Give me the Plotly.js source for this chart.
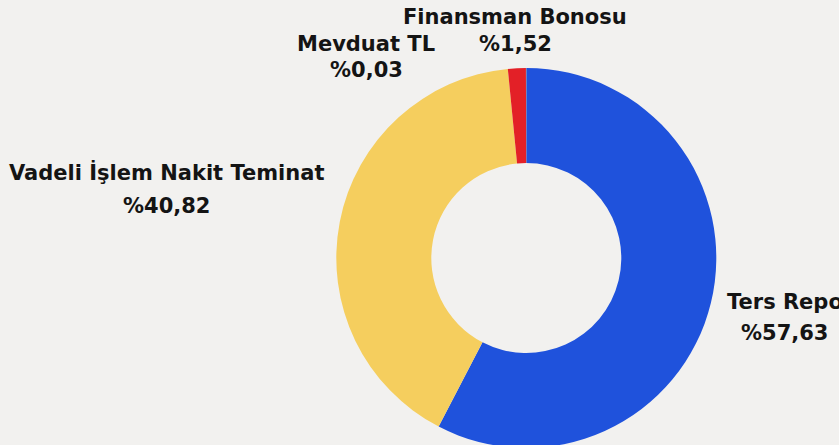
<!DOCTYPE html>
<html>
<head>
<meta charset="utf-8">
<script src="https://cdn.plot.ly/plotly-3.0.1.min.js"></script>
<style>
html, body { margin: 0; padding: 0; overflow: hidden; background: #f2f1ef; }
#chart { width: 839px; height: 450px; }
</style>
</head>
<body>
<div id="chart"></div>
<script>
// Data
const labels = ["Ters Repo", "Vadeli İşlem Nakit Teminat", "Finansman Bonosu", "Mevduat TL"];
const values = [57.63, 40.82, 1.52, 0.03];
const valueText = ["%57,63", "%40,82", "%1,52", "%0,03"];

// Styles / label placement (page px from top-left)
const colors = ["#1f52dc", "#f5ce5e", "#e32027", "#8a8a8a"];
const namePos = [[785, 302], [166, 172], [515, 17], [366, 44]];
const valuePos = [[784, 333], [166, 206], [515, 44], [366, 70]];

const W = 839, H = 450;
const M = { l: 0, r: 0, t: 68, b: 2 };
const plotH = H - M.t - M.b;
const fontSpec = { family: "'DejaVu Sans', sans-serif", size: 21, color: "#141414", weight: 700 };

const annotations = [];
function addText(txt, p) {
  annotations.push({
    text: txt, xref: "paper", yref: "paper",
    x: (p[0] - M.l) / (W - M.l - M.r), y: 1 - (p[1] - M.t) / plotH,
    xanchor: "center", yanchor: "middle", showarrow: false, font: fontSpec
  });
}
labels.forEach((lab, i) => { addText(lab, namePos[i]); addText(valueText[i], valuePos[i]); });

const cx = 526.3, r = 190;
const trace = {
  type: "pie",
  labels: labels,
  values: values,
  hole: 0.5,
  sort: false,
  direction: "clockwise",
  rotation: 0,
  textinfo: "none",
  hoverinfo: "label+percent",
  marker: { colors: colors, line: { width: 0 } },
  domain: { x: [(cx - r) / W, (cx + r) / W], y: [0, 1] },
  showlegend: false
};

const layout = {
  width: W, height: H,
  margin: { l: M.l, r: M.r, t: M.t, b: M.b, pad: 0 },
  paper_bgcolor: "#f2f1ef",
  plot_bgcolor: "#f2f1ef",
  showlegend: false,
  annotations: annotations
};

Plotly.newPlot("chart", [trace], layout, { displayModeBar: false, staticPlot: true });
</script>
</body>
</html>
